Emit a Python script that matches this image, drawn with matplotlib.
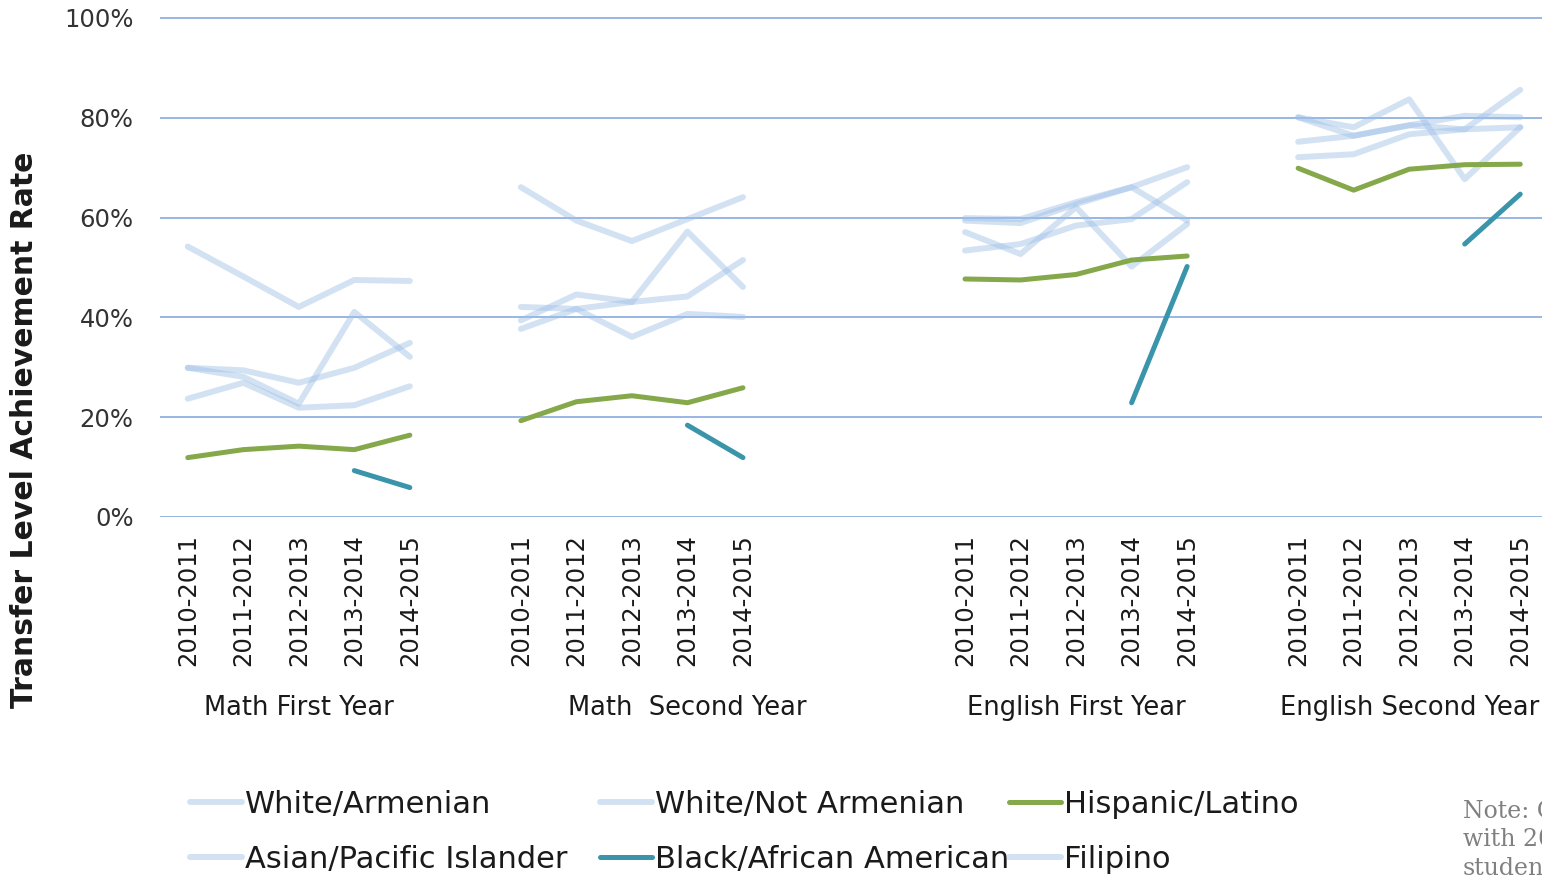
import numpy as np
import matplotlib
matplotlib.use("Agg")
import matplotlib.pyplot as plt
from matplotlib.lines import Line2D
from matplotlib.transforms import blended_transform_factory

# ---------------- data ----------------
years = ["2010-2011", "2011-2012", "2012-2013", "2013-2014", "2014-2015"]
groups = ["Math First Year", "Math  Second Year", "English First Year", "English Second Year"]

# values in percent, one list of 5 per group
white_armenian = [[54.2, 48.2, 42.1, 47.5, 47.3],
                  [66.1, 59.4, 55.3, 59.7, 64.1],
                  [59.9, 59.7, 63.1, 66.1, 70.1],
                  [80.1, 78.1, 83.7, 67.7, 78.1]]
white_not_armenian = [[29.9, 28.1, 22.7, 41.1, 32.1],
                      [37.7, 41.7, 43.1, 57.2, 46.1],
                      [57.1, 52.7, 62.1, 50.2, 58.7],
                      [80.1, 76.4, 78.5, 80.4, 80.1]]
asian_pacific = [[29.9, 29.4, 26.9, 29.9, 34.9],
                 [39.4, 44.6, 43.1, 44.2, 51.5],
                 [53.4, 54.7, 58.4, 59.7, 67.1],
                 [75.2, 76.4, 78.5, 77.7, 85.6]]
filipino = [[23.7, 26.9, 21.9, 22.4, 26.2],
            [42.1, 41.7, 36.1, 40.7, 40.1],
            [59.4, 58.9, 62.7, 66.1, 59.4],
            [72.1, 72.7, 76.7, 77.7, 78.1]]
hispanic = [[11.9, 13.5, 14.2, 13.5, 16.4],
            [19.3, 23.1, 24.3, 22.9, 25.9],
            [47.7, 47.5, 48.6, 51.5, 52.3],
            [69.9, 65.5, 69.7, 70.6, 70.7]]
black = [[np.nan, np.nan, np.nan, 9.3, 5.9],
         [np.nan, np.nan, np.nan, 18.4, 11.9],
         [np.nan, np.nan, np.nan, 22.9, 50.2],
         [np.nan, np.nan, np.nan, 54.7, 64.7]]

yticks = [0, 20, 40, 60, 80, 100]
ytick_labels = ["0%", "20%", "40%", "60%", "80%", "100%"]

# ---------------- layout / style ----------------
group_offsets = [0, 6, 14, 20]          # category slot where each group begins
n_slots = 25
group_label_slot = [2, 9, 16, 22]

LIGHT = "#9dbfe6"
GREEN = "#84a84a"
TEAL = "#3a95ab"
GRID = "#86aade"
TXT = "#1a1a1a"

W, H = 1542, 876
fig = plt.figure(figsize=(W / 100, H / 100), dpi=100)
ax_left, ax_right, ax_top, ax_bottom = 160, 1548, 17, 517
ax = fig.add_axes([ax_left / W, 1 - ax_bottom / H, (ax_right - ax_left) / W, (ax_bottom - ax_top) / H])


def expand(series):
    arr = np.full(n_slots, np.nan)
    for g, vals in enumerate(series):
        for i, v in enumerate(vals):
            arr[group_offsets[g] + i] = v
    return arr


xs = np.arange(n_slots)
series_specs = [
    ("White/Armenian", white_armenian, LIGHT, 0.45, 4.3),
    ("White/Not Armenian", white_not_armenian, LIGHT, 0.45, 4.3),
    ("Asian/Pacific Islander", asian_pacific, LIGHT, 0.45, 4.3),
    ("Filipino", filipino, LIGHT, 0.45, 4.3),
    ("Hispanic/Latino", hispanic, GREEN, 1.0, 3.6),
    ("Black/African American", black, TEAL, 1.0, 3.6),
]
handles = {}
for name, data, col, alpha, lw in series_specs:
    y = expand(data)
    ax.plot(xs, y, color=col, alpha=alpha, lw=lw, solid_capstyle="round",
            solid_joinstyle="round", label=name, zorder=3)
    handles[name] = Line2D([], [], color=col, alpha=alpha, lw=lw, solid_capstyle="round")

ax.set_xlim(-0.5, n_slots - 0.5)
ax.set_ylim(0, 100.2)
ax.set_yticks(yticks)
ax.set_yticklabels(ytick_labels)
ax.yaxis.grid(True, color=GRID, lw=1.2)
ax.set_axisbelow(True)
for s in ax.spines.values():
    s.set_visible(False)

tick_pos, tick_lab = [], []
for off in group_offsets:
    for i, yr in enumerate(years):
        tick_pos.append(off + i)
        tick_lab.append(yr)
ax.set_xticks(tick_pos)
ax.set_xticklabels(tick_lab, rotation=90, fontsize=17.5, color=TXT)
ax.tick_params(axis="x", length=0, pad=12)
ax.tick_params(axis="y", length=0, pad=19, labelsize=17.5, labelcolor="#333333")

trans = blended_transform_factory(ax.transData, ax.transAxes)
for slot, g in zip(group_label_slot, groups):
    ax.text(slot, -0.382, g, transform=trans, ha="center", va="center",
            fontsize=18.5, color=TXT)

fig.text(25 / W, 1 - 430 / H, "Transfer Level Achievement Rate", rotation=90,
         ha="center", va="center", fontsize=21.5, fontweight="bold", color=TXT)

# legend: three columns of two entries
legend_columns = [["White/Armenian", "Asian/Pacific Islander"],
                  ["White/Not Armenian", "Black/African American"],
                  ["Hispanic/Latino", "Filipino"]]
column_x = [190, 600, 1009]
for names, cx in zip(legend_columns, column_x):
    leg = fig.legend([handles[n] for n in names], names, ncol=1, loc="upper left",
                     bbox_to_anchor=(cx / W, 1 - 790 / H), frameon=False,
                     fontsize=22, handlelength=1.7, handletextpad=0.1,
                     labelspacing=0.85, borderpad=0, borderaxespad=0)
    for t in leg.get_texts():
        t.set_color(TXT)

fig.text(1463 / W, 1 - 800 / H, "Note: Cohorts shown\nwith 20 or more\nstudents.",
         ha="left", va="top", fontsize=17, family="DejaVu Serif", color="#808080",
         linespacing=1.3)

fig.savefig("out.png", dpi=100)
